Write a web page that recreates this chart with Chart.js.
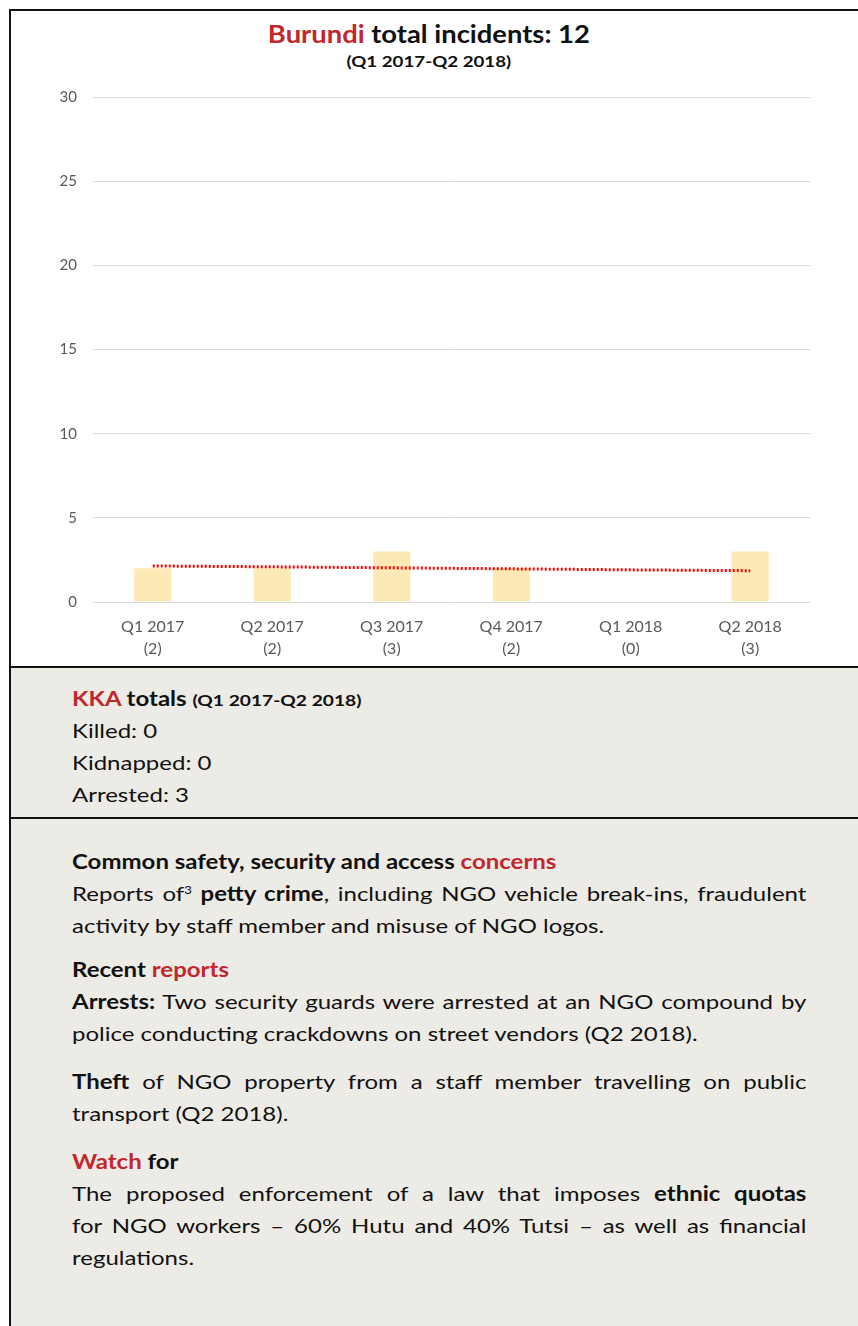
<!DOCTYPE html>
<html>
<head>
<meta charset="utf-8">
<script src="https://cdn.jsdelivr.net/npm/chart.js@4.4.1/dist/chart.umd.min.js"></script>
<style>
  html, body { margin: 0; padding: 0; background: #ffffff; width: 858px; height: 1326px; overflow: hidden; font-family: Lato, "Open Sans", sans-serif; color: #111; }
  #frame { position: absolute; left: 9px; top: 9px; width: 900px; height: 1330px; border-left: 2px solid #111; border-top: 2px solid #111; }
  .panel { position: absolute; left: 11px; width: 900px; }
  #chartPanel { top: 11px; height: 655px; background: #ffffff; }
  #kkaPanel { top: 666px; height: 149px; background: #edebe5; border-top: 2px solid #111; border-bottom: 2px solid #111; }
  #infoPanel { top: 819px; height: 520px; background: #edebe5; }
  #title { position: absolute; left: 0; top: 18px; width: 858px; text-align: center; font-weight: 700; font-size: 24px; line-height: 32px; transform: scaleX(1.14); transform-origin: 430px 0; }
  #subtitle { position: absolute; left: 0; top: 51px; width: 858px; text-align: center; font-weight: 700; font-size: 16px; line-height: 20px; transform: scaleX(1.17); transform-origin: 430px 0; }
  .red { color: #c1272d; }
  #chartWrap { position: absolute; left: 12px; top: 70px; width: 846px; height: 596px; }
  .txt { position: absolute; left: 72px; width: 612px; font-size: 20px; line-height: 32px; transform: scaleX(1.2); transform-origin: 0 0; }
  .txt b { font-weight: 700; }
  .j { text-align: justify; text-align-last: justify; }
  .small { font-size: 16px; }
  sup { font-size: 11px; line-height: 0; vertical-align: 7px; }
</style>
</head>
<body>
<div id="frame"></div>
<div class="panel" id="chartPanel"></div>
<div class="panel" id="kkaPanel"></div>
<div class="panel" id="infoPanel"></div>

<div id="title"><span class="red">Burundi</span> total incidents: 12</div>
<div id="subtitle">(Q1 2017-Q2 2018)</div>
<div id="chartWrap"><canvas id="chart"></canvas></div>

<div class="txt" style="top:682px"><b><span class="red">KKA</span> totals <span class="small">(Q1 2017-Q2 2018)</span></b></div>
<div class="txt" style="top:714px">Killed: 0</div>
<div class="txt" style="top:746px">Kidnapped: 0</div>
<div class="txt" style="top:778px">Arrested: 3</div>

<div class="txt" style="top:845px"><b>Common safety, security and access <span class="red">concerns</span></b></div>
<div class="txt j" style="top:877px">Reports of<sup>3</sup> <b>petty crime</b>, including NGO vehicle break-ins, fraudulent</div>
<div class="txt" style="top:909px">activity by staff member and misuse of NGO logos.</div>

<div class="txt" style="top:953px"><b>Recent <span class="red">reports</span></b></div>
<div class="txt j" style="top:985px"><b>Arrests:</b> Two security guards were arrested at an NGO compound by</div>
<div class="txt" style="top:1017px">police conducting crackdowns on street vendors (Q2 2018).</div>

<div class="txt j" style="top:1065px"><b>Theft</b> of NGO property from a staff member travelling on public</div>
<div class="txt" style="top:1097px">transport (Q2 2018).</div>

<div class="txt" style="top:1145px"><b><span class="red">Watch</span> for</b></div>
<div class="txt j" style="top:1177px">The proposed enforcement of a law that imposes <b>ethnic quotas</b></div>
<div class="txt j" style="top:1209px">for NGO workers – 60% Hutu and 40% Tutsi – as well as financial</div>
<div class="txt" style="top:1241px">regulations.</div>

<script>
const categories = ['Q1 2017', 'Q2 2017', 'Q3 2017', 'Q4 2017', 'Q1 2018', 'Q2 2018'];
const incidents = [2, 2, 3, 2, 0, 3];
const trendValues = [2.14, 2.09, 2.03, 1.97, 1.91, 1.86];
const yMin = 0, yMax = 30, yStep = 5;

const labels = categories.map((c, i) => [c, '(' + incidents[i] + ')']);

new Chart(document.getElementById('chart'), {
  type: 'bar',
  data: {
    labels: labels,
    datasets: [
      {
        type: 'line',
        data: trendValues,
        borderColor: '#ff0000',
        borderWidth: 3,
        borderDash: [2, 2],
        pointRadius: 0,
        fill: false,
        tension: 0
      },
      {
        type: 'bar',
        data: incidents,
        backgroundColor: '#fde9b5',
        categoryPercentage: 1,
        barPercentage: 0.31
      }
    ]
  },
  options: {
    responsive: true,
    maintainAspectRatio: false,
    animation: false,
    layout: { padding: { left: 0, right: 48, top: 27, bottom: 0 } },
    plugins: { legend: { display: false }, tooltip: { enabled: false }, title: { display: false } },
    scales: {
      x: {
        grid: { display: false },
        border: { display: false },
        ticks: { color: '#595959', font: { family: 'Lato', size: 16, lineHeight: 1.375 }, padding: 6, maxRotation: 0, autoSkip: false },
        afterFit: (axis) => { axis.height = 64; }
      },
      y: {
        min: yMin, max: yMax,
        grid: { color: '#d9d9d9', drawTicks: false, lineWidth: 1 },
        border: { display: false },
        ticks: { stepSize: yStep, color: '#595959', font: { family: 'Lato', size: 15 }, padding: 16 },
        afterFit: (axis) => { axis.width = 81; }
      }
    }
  }
});
</script>
</body>
</html>
